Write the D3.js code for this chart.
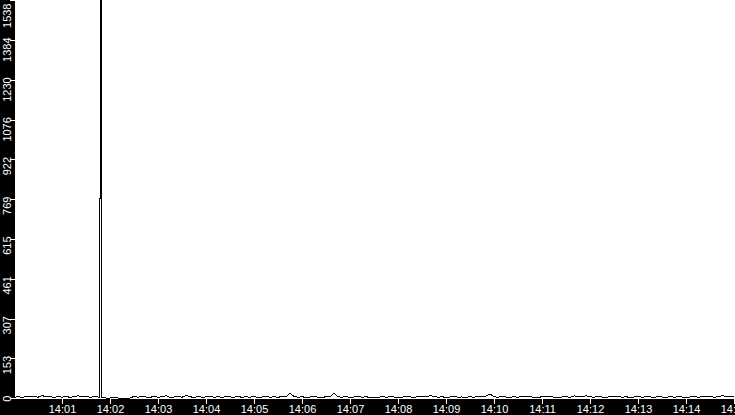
<!DOCTYPE html>
<html>
<head>
<meta charset="utf-8">
<script src="https://cdn.jsdelivr.net/npm/d3@7"></script>
<style>
  body { margin: 0; background: #000; }
  svg { display: block; }
</style>
</head>
<body>
<script>

// samples every 5 seconds from 14:00:00 to 14:15:00
var stepSeconds = 5;
var values = [
  3, 5, 2, 6, 4, 8, 3, 10, 4, 5,
  2, 6, 3, 7, 2, 5, 9, 4, 6, 3,
  5, 4, 2, 0, 0, 3, 0, 0, 0, 0,
  6, 3, 8, 4, 2, 7, 3, 5, 9, 2,
  4, 6, 3, 10, 5, 2, 6, 3, 4, 8,
  3, 5, 2, 6, 4, 3, 7, 2, 5, 3,
  6, 2, 4, 8, 3, 5, 2, 7, 4, 18,
  6, 3, 5, 2, 4, 6, 3, 2, 5, 4,
  20, 5, 3, 6, 2, 4, 7, 3, 5, 2,
  4, 2, 6, 3, 5, 4, 2, 3, 6, 4,
  3, 5, 7, 4, 9, 6, 3, 5, 2, 4,
  6, 3, 4, 2, 5, 3, 6, 4, 7, 15,
  5, 3, 6, 4, 2, 5, 3, 6, 4, 5,
  3, 2, 5, 4, 6, 3, 2, 4, 5, 3,
  8, 6, 4, 9, 5, 3, 7, 4, 2, 5,
  4, 6, 3, 5, 2, 4, 6, 3, 5, 4,
  3, 5, 4, 2, 6, 3, 5, 4, 2, 4,
  6, 3, 5, 4, 7, 3, 5, 9, 6, 4,
  5
];

// the burst around 14:01:47, sampled finer
var spikeSeconds = [106.87, 106.88, 108.12, 108.13, 109.37, 109.38];
var spikeValues = [2, 772, 772, 1545, 1545, 3];

var yMax = 1538.4;
var yTickLabels = [0, 153, 307, 461, 615, 769, 922, 1076, 1230, 1384, 1538];
var xTickMinutes = [1, 2, 3, 4, 5, 6, 7, 8, 9, 10, 11, 12, 13, 14, 15];

var width = 735;
var height = 415;
var leftBand = 15;
var plotBottom = 399;

var t0 = new Date(2000, 0, 1, 14, 0, 0);
function at(sec) { return new Date(t0.getTime() + sec * 1000); }

var points = values.map(function(v, i) { return { t: at(i * stepSeconds), v: v }; });
spikeSeconds.forEach(function(s, i) { points.push({ t: at(s), v: spikeValues[i] }); });
points.sort(function(a, b) { return a.t - b.t; });

var x = d3.scaleTime()
  .domain([t0, at(15 * 60)])
  .range([14, 734]);

var y = d3.scaleLinear()
  .domain([0, yMax])
  .range([398, 0]);

var svg = d3.select('body')
  .append('svg')
    .attr('width', width)
    .attr('height', height);

svg.append('rect')
  .attr('width', width)
  .attr('height', height)
  .attr('fill', '#000');

svg.append('rect')
  .attr('x', leftBand)
  .attr('y', 0)
  .attr('width', width - leftBand)
  .attr('height', plotBottom)
  .attr('fill', '#fff');

svg.append('defs')
  .append('clipPath')
    .attr('id', 'plot')
  .append('rect')
    .attr('x', leftBand)
    .attr('y', 0)
    .attr('width', width - leftBand)
    .attr('height', plotBottom);

var line = d3.line()
  .x(function(d) { return x(d.t); })
  .y(function(d) { return y(d.v); });

svg.append('path')
  .datum(points)
  .attr('clip-path', 'url(#plot)')
  .attr('d', line)
  .attr('fill', 'none')
  .attr('stroke', '#000')
  .attr('stroke-width', 1)
  .attr('shape-rendering', 'crispEdges');

// left axis: rotated labels
var yAxis = svg.append('g')
  .attr('transform', 'translate(' + leftBand + ',0)')
  .call(d3.axisLeft(y).tickValues(yTickLabels).tickSize(5).tickFormat(d3.format('d')));

yAxis.select('.domain').remove();
yAxis.selectAll('line').attr('stroke', '#fff').attr('shape-rendering', 'crispEdges');
yAxis.selectAll('text')
  .attr('x', null)
  .attr('dy', null)
  .attr('fill', '#fff')
  .attr('font-family', '"Liberation Sans", Arial, sans-serif')
  .attr('font-size', 11)
  .attr('text-anchor', 'end')
  .attr('transform', function(d) {
    var off = Math.max(-3, 3 - y(d));
    return 'translate(-4,' + off + ') rotate(-90)';
  });

// bottom axis
var xAxis = svg.append('g')
  .attr('transform', 'translate(0,' + plotBottom + ')')
  .call(d3.axisBottom(x)
    .tickValues(xTickMinutes.map(function(m) { return at(m * 60); }))
    .tickSize(5)
    .tickFormat(d3.timeFormat('%H:%M')));

xAxis.select('.domain').remove();
xAxis.selectAll('line').attr('stroke', '#fff').attr('shape-rendering', 'crispEdges');
xAxis.selectAll('text')
  .attr('y', 6)
  .attr('fill', '#fff')
  .attr('font-family', '"Liberation Sans", Arial, sans-serif')
  .attr('font-size', 11);

</script>
</body>
</html>
